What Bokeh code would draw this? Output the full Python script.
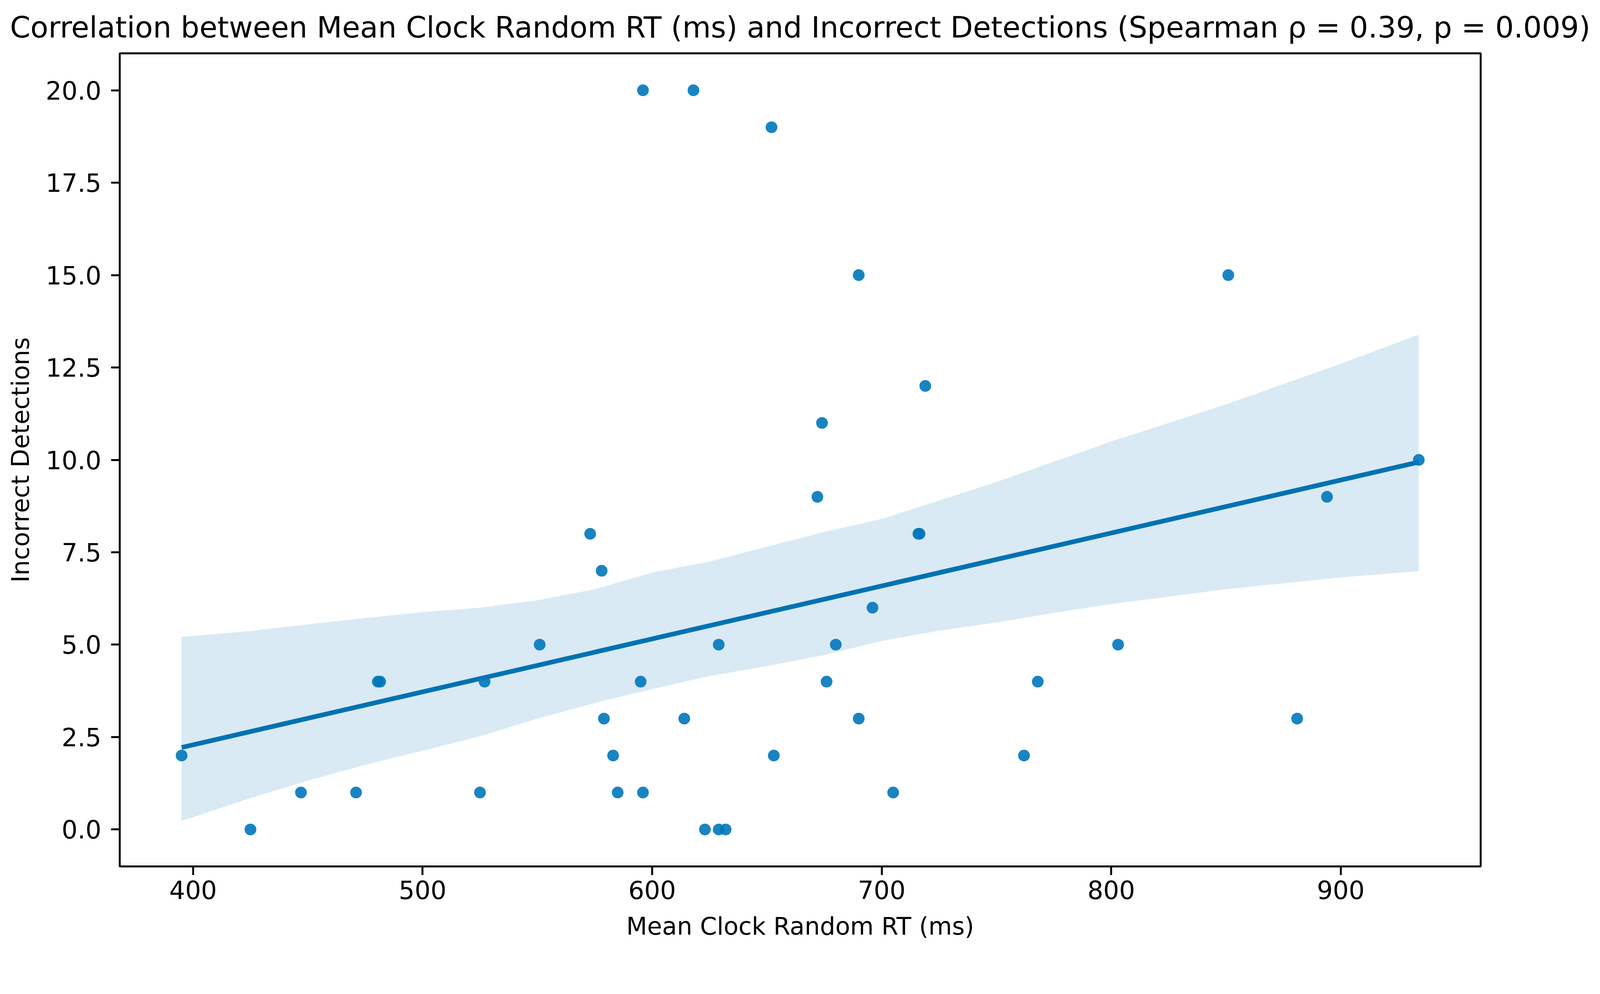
import numpy as np
from bokeh.plotting import figure
from bokeh.models import FixedTicker, PrintfTickFormatter, Range1d
from bokeh.embed import file_html
from bokeh.resources import INLINE

# ---- data ----
rt_ms = [395, 425, 447, 471, 480.5, 481.5, 525, 527, 551, 573, 578, 579, 583, 585,
         595, 596, 596, 614, 618, 623, 629, 629, 632, 652, 653, 672, 674, 676,
         680, 690, 690, 696, 705, 716, 716.5, 719, 762, 768, 803, 851, 881, 894, 934]
incorrect = [2, 0, 1, 1, 4, 4, 1, 4, 5, 8, 7, 3, 2, 1,
             4, 1, 20, 3, 20, 0, 5, 0, 0, 19, 2, 9, 11, 4,
             5, 15, 3, 6, 1, 8, 8, 12, 2, 4, 5, 15, 3, 9, 10]

# 95% confidence band of the regression
band_x = [395, 425, 450, 475, 500, 525, 550, 575, 600, 625, 650, 675, 700,
          725, 750, 775, 800, 825, 850, 875, 900, 934]
band_lower = [0.23, 0.85, 1.32, 1.75, 2.13, 2.52, 3.0, 3.42, 3.8, 4.15, 4.42,
              4.72, 5.1, 5.38, 5.6, 5.86, 6.1, 6.3, 6.5, 6.66, 6.82, 6.99]
band_upper = [5.21, 5.37, 5.55, 5.72, 5.88, 6.0, 6.2, 6.5, 6.95, 7.25, 7.65,
              8.05, 8.4, 8.9, 9.4, 9.95, 10.5, 11.0, 11.5, 12.05, 12.6, 13.39]

x_ticks = [400, 500, 600, 700, 800, 900]
y_ticks = [0, 2.5, 5, 7.5, 10, 12.5, 15, 17.5, 20]

title_text = ("Correlation between Mean Clock Random RT (ms) and Incorrect Detections "
              "(Spearman \u03c1 = 0.39, p = 0.009)")
x_label = "Mean Clock Random RT (ms)"
y_label = "Incorrect Detections"

# ---- regression line from the data ----
xa = np.array(rt_ms, dtype=float)
ya = np.array(incorrect, dtype=float)
slope, intercept = np.polyfit(xa, ya, 1)
fit_x = np.array([xa.min(), xa.max()])
fit_y = intercept + slope * fit_x

# ranges with matplotlib-like 5% margins
xpad = 0.05 * (xa.max() - xa.min())
ypad = 0.05 * (ya.max() - ya.min())

COLOR = "#0072B2"
FONT = "DejaVu Sans"

p = figure(width=4108, height=2409, output_backend="svg", toolbar_location=None,
           x_range=Range1d(xa.min() - xpad, xa.max() + xpad),
           y_range=Range1d(ya.min() - ypad, ya.max() + ypad),
           min_border_left=306, min_border_right=318,
           min_border_top=134, min_border_bottom=187)

p.title.text = title_text
p.title.text_font = FONT
p.title.text_font_size = "75px"
p.title.text_font_style = "normal"
p.title.align = "center"
p.title.standoff = 46
p.title.text_color = "black"

p.xgrid.visible = False
p.ygrid.visible = False
p.background_fill_color = "white"
p.border_fill_color = "white"
p.outline_line_color = "black"
p.outline_line_width = 5
p.outline_line_alpha = 1

# CI band, regression line, points
p.varea(x=band_x, y1=band_lower, y2=band_upper, fill_color=COLOR, fill_alpha=0.15)
p.line(fit_x, fit_y, line_color=COLOR, line_width=12)
p.scatter(rt_ms, incorrect, size=30, marker="circle", fill_color="#0077BB",
          fill_alpha=0.9, line_color=None)

for ax in (p.xaxis[0], p.yaxis[0]):
    ax.axis_line_color = "black"
    ax.axis_line_width = 5
    ax.major_tick_line_color = "black"
    ax.major_tick_line_width = 5
    ax.major_tick_out = 22
    ax.major_tick_in = 0
    ax.minor_tick_line_color = None
    ax.major_label_text_font = FONT
    ax.major_label_text_font_size = "64px"
    ax.major_label_text_color = "black"
    ax.axis_label_text_font = FONT
    ax.axis_label_text_font_size = "62px"
    ax.axis_label_text_font_style = "normal"
    ax.axis_label_text_color = "black"

p.xaxis[0].ticker = FixedTicker(ticks=x_ticks)
p.yaxis[0].ticker = FixedTicker(ticks=y_ticks)
p.yaxis[0].formatter = PrintfTickFormatter(format="%.1f")
p.xaxis[0].axis_label = x_label
p.yaxis[0].axis_label = y_label
p.xaxis[0].major_label_standoff = 14
p.xaxis[0].axis_label_standoff = 30
p.yaxis[0].major_label_standoff = 25
p.yaxis[0].axis_label_standoff = 25

open("out.html", "w").write(file_html(p, INLINE))
